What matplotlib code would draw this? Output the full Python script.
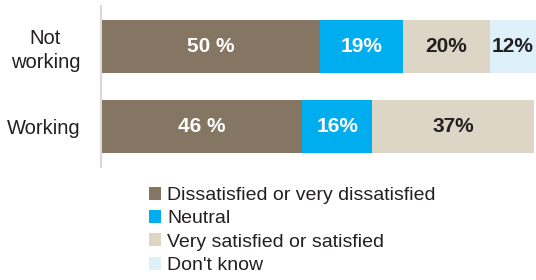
import matplotlib.pyplot as plt
from matplotlib.patches import Patch

plt.rcParams['font.family'] = ['Liberation Sans', 'DejaVu Sans']

groups = ['Not\nworking', 'Working']
categories = ['Dissatisfied or very dissatisfied', 'Neutral',
              'Very satisfied or satisfied', "Don't know"]
dissatisfied = [50, 46]
neutral = [19, 16]
satisfied = [20, 37]
dont_know = [12, 0]
labels = [['50 %', '46 %'], ['19%', '16%'], ['20%', '37%'], ['12%', '']]

colors = ['#857663', '#00adef', '#ddd5c6', '#def1fa']
text_colors = ['white', 'white', '#231f20', '#231f20']
xmax = 99.5

fig = plt.figure(figsize=(5.36, 2.8), dpi=100)
ax = fig.add_axes([101 / 536, 0.405, 1 - 101 / 536, 0.572])

series = [dissatisfied, neutral, satisfied, dont_know]
left = [0, 0]
for i, vals in enumerate(series):
    bars = ax.barh([0, 1], vals, left=left, height=0.66, color=colors[i], linewidth=0)
    for j, b in enumerate(bars):
        if vals[j] > 0:
            # centre the label on the visible part of the segment
            xc = (left[j] + min(left[j] + vals[j], xmax)) / 2
            ax.text(xc, j, labels[i][j], ha='center', va='center',
                    color=text_colors[i], fontsize=15, fontweight='bold')
    left = [left[k] + vals[k] for k in range(2)]

ax.set_xlim(0, xmax)
ax.set_ylim(1.5, -0.5)
ax.set_yticks([0, 1])
ax.set_yticklabels(groups, fontsize=14.5, color='#231f20', multialignment='center',
                   linespacing=1.3)
ax.tick_params(axis='y', length=0, pad=15)
ax.set_xticks([])
for s in ['top', 'right', 'bottom']:
    ax.spines[s].set_visible(False)
ax.spines['left'].set_color('#d9d9d9')
ax.spines['left'].set_linewidth(1.5)

handles = [Patch(facecolor=c, edgecolor='none') for c in colors]
fig.legend(handles, categories, loc='upper left', bbox_to_anchor=(139 / 536, 1 - 177 / 280),
           frameon=False, fontsize=14, handlelength=0.65, handleheight=0.65,
           handletextpad=0.3, labelspacing=0.31, borderpad=0, labelcolor='#231f20')

fig.savefig('out.png', dpi=100)
